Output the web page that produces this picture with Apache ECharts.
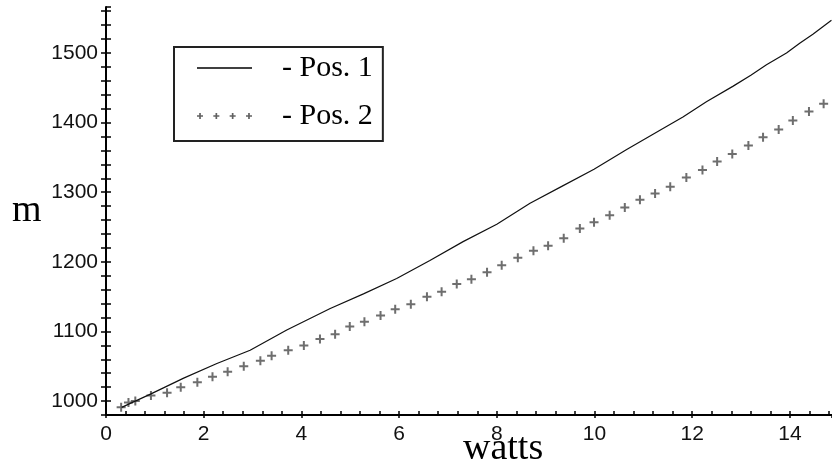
<!DOCTYPE html>
<html><head><meta charset="utf-8">
<script src="https://cdn.jsdelivr.net/npm/echarts@6/dist/echarts.min.js"></script>
<style>html,body{margin:0;padding:0;background:#fff}#c{width:832px;height:465px}</style>
</head><body><div id="c"></div>
<script>
// Pos. 1 (solid line)
const pos1X = [0.32, 0.91, 1.59, 2.27, 2.95, 3.70, 4.59, 5.27, 5.95, 6.63, 7.31, 8.00, 8.68, 9.32, 9.99, 10.65, 11.34, 11.81, 12.29, 12.83, 13.2, 13.52, 13.93, 14.2, 14.47, 14.85];
const pos1Y = [991, 1010, 1033, 1054, 1073, 1102, 1133, 1154, 1176, 1202, 1229, 1254, 1284, 1308, 1333, 1361, 1389, 1408, 1430, 1452, 1468, 1483, 1500, 1514, 1527, 1547];
// Pos. 2 (+ markers)
const pos2X = [0.31,0.46,0.60,0.92,1.25,1.53,1.87,2.18,2.49,2.82,3.16,3.39,3.73,4.05,4.38,4.69,4.99,5.29,5.62,5.92,6.24,6.57,6.87,7.18,7.48,7.80,8.10,8.43,8.75,9.05,9.37,9.70,9.99,10.31,10.62,10.93,11.24,11.55,11.88,12.21,12.51,12.82,13.15,13.45,13.77,14.06,14.39,14.69];
const pos2Y = [991,998,1000,1008,1012,1020,1027,1035,1042,1050,1058,1065,1073,1080,1089,1096,1107,1114,1123,1132,1139,1150,1157,1168,1175,1185,1195,1206,1216,1223,1234,1248,1257,1267,1278,1289,1298,1308,1321,1332,1344,1355,1367,1379,1390,1403,1416,1427];
const xTickLabels = [0, 2, 4, 6, 8, 10, 12, 14];
const yTickLabels = [1000, 1100, 1200, 1300, 1400, 1500];
const seriesNames = ['Pos. 1', 'Pos. 2'];
const xTitle = 'watts';
const yTitle = 'm';

const plusPath = 'path://M3.5,0H5.5V3.5H9V5.5H5.5V9H3.5V5.5H0V3.5H3.5Z';
let lp = '';
for (let i = 0; i < 4; i++) {
  const o = i * 16.5;
  lp += `M${o+2.2},0H${o+3.9}V2.2H${o+6.1}V3.9H${o+3.9}V6.1H${o+2.2}V3.9H${o}V2.2H${o+2.2}Z`;
}
const legendPlus = 'path://' + lp;
const legendLine = 'path://M0,0H55V1.6H0Z';

const near = (v, arr) => arr.some(a => Math.abs(a - v) < 1e-6);
const tickFont = {fontFamily: 'Liberation Sans', fontSize: 21, color: '#111'};
const X = {min: 0, max: 14.85};
const Y = {min: 980, max: 1566};

const chart = echarts.init(document.getElementById('c'), null, {renderer: 'canvas'});
chart.setOption({
  animation: false,
  backgroundColor: '#fff',
  grid: {left: 106, right: 0, top: 7, bottom: 50, containLabel: false},
  xAxis: [
    {type: 'value', min: X.min, max: X.max, interval: 0.4,
     axisLine: {show: true, lineStyle: {color: '#000', width: 2}},
     axisTick: {show: true, inside: true, length: 4, lineStyle: {color: '#000', width: 1.5}},
     splitLine: {show: false},
     axisLabel: {show: true, margin: 9, ...tickFont, formatter: v => near(v, xTickLabels) ? String(Math.round(v)) : '', showMaxLabel: false}},
    {type: 'value', min: X.min, max: X.max, interval: 2, position: 'bottom',
     axisLine: {show: false}, axisLabel: {show: false}, splitLine: {show: false},
     axisTick: {show: true, inside: false, length: 3, lineStyle: {color: '#000', width: 1.5}}}
  ],
  yAxis: [
    {type: 'value', min: Y.min, max: Y.max, interval: 20,
     axisLine: {show: true, lineStyle: {color: '#000', width: 2}},
     axisTick: {show: true, inside: false, length: 5, lineStyle: {color: '#000', width: 1.5}},
     splitLine: {show: false},
     axisLabel: {show: true, margin: 8, ...tickFont, formatter: v => near(v, yTickLabels) ? String(Math.round(v)) : '', showMaxLabel: false}},
    {type: 'value', min: Y.min, max: Y.max, interval: 20, position: 'left',
     axisLine: {show: false}, axisLabel: {show: false}, splitLine: {show: false},
     axisTick: {show: true, inside: true, length: 5, lineStyle: {color: '#000', width: 1.5}}}
  ],
  legend: {
    orient: 'vertical', left: 174, top: 47,
    borderColor: '#222', borderWidth: 2, padding: [6, 10, 10, 23],
    itemGap: 18, itemWidth: 55, itemHeight: 7,
    selectedMode: false, symbolKeepAspect: true,
    formatter: n => '- ' + n,
    textStyle: {fontFamily: 'Liberation Serif', fontSize: 30, color: '#000', padding: [0, 0, 0, 25]},
    data: [
      {name: seriesNames[0], icon: legendLine, itemStyle: {color: '#000'}},
      {name: seriesNames[1], icon: legendPlus, itemStyle: {color: '#3a3a3a'}}
    ]
  },
  graphic: [
    {type: 'text', left: 12, top: 192, style: {text: yTitle, font: '38px "Liberation Serif"', fill: '#000'}},
    {type: 'text', left: 463, top: 430, style: {text: xTitle, font: '38px "Liberation Serif"', fill: '#000'}}
  ],
  series: [
    {name: seriesNames[0], type: 'line', symbol: 'none', smooth: false,
     lineStyle: {color: '#111', width: 1.2}, itemStyle: {color: '#111'},
     data: pos1X.map((x, i) => [x, pos1Y[i]])},
    {name: seriesNames[1], type: 'scatter', symbol: plusPath, symbolSize: 9,
     itemStyle: {color: '#4a4a4a'},
     data: pos2X.map((x, i) => [x, pos2Y[i]])}
  ]
});
</script></body></html>
